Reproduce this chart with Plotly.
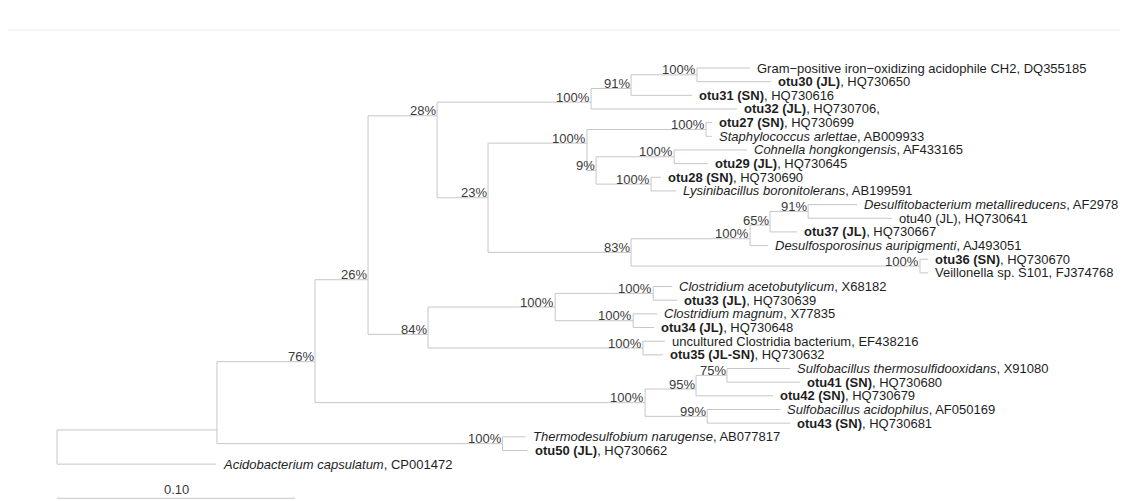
import plotly.graph_objects as go

# ---- tree data (pre-order, children listed top to bottom) ----
node_id = [
    "root", "A", "B", "C", "D", "N1", "N2", "N3", "gram", "otu30", "otu31", "otu32",
    "N4", "N5", "N6", "otu27", "staph", "N7", "N8", "cohnella", "otu29", "N9", "otu28", "lysini",
    "N10", "N11", "N12", "N13", "desulfito", "otu40", "otu37", "desulfosporo", "N14", "otu36", "veillonella",
    "E", "N15", "N16", "caceto", "otu33", "N17", "cmagnum", "otu34", "N18", "uncult", "otu35",
    "N19", "N20", "N21", "sthermo", "otu41", "otu42", "N22", "sacid", "otu43",
    "N23", "thermo", "otu50", "acido",
]
node_parent = [
    None, "root", "A", "B", "C", "D", "N1", "N2", "N3", "N3", "N2", "N1",
    "D", "N4", "N5", "N6", "N6", "N5", "N7", "N8", "N8", "N7", "N9", "N9",
    "N4", "N10", "N11", "N12", "N13", "N13", "N12", "N11", "N10", "N14", "N14",
    "C", "E", "N15", "N16", "N16", "N15", "N17", "N17", "E", "N18", "N18",
    "B", "N19", "N20", "N21", "N21", "N20", "N19", "N22", "N22",
    "A", "N23", "N23", "root",
]
branch_length = [
    0.0, 0.0672, 0.0412, 0.0223, 0.0290, 0.0647, 0.0168, 0.0277, 0.0223, 0.0311, 0.0256, 0.0613,
    0.0214, 0.0416, 0.0500, 0.0025, 0.0025, 0.0038, 0.0328, 0.0307, 0.0143, 0.0231, 0.0042, 0.0105,
    0.0601, 0.0500, 0.0084, 0.0160, 0.0206, 0.0353, 0.0113, 0.0076, 0.1214, 0.0034, 0.0034,
    0.0252, 0.0534, 0.0412, 0.0080, 0.0101, 0.0328, 0.0101, 0.0088, 0.0903, 0.0092, 0.0084,
    0.1387, 0.0214, 0.0130, 0.0265, 0.0307, 0.0324, 0.0261, 0.0307, 0.0349,
    0.1200, 0.0097, 0.0105, 0.0668,
]
bootstrap = [
    "", "", "76%", "26%", "28%", "100%", "91%", "100%", "", "", "", "",
    "23%", "100%", "100%", "", "", "9%", "100%", "", "", "100%", "", "",
    "83%", "100%", "65%", "91%", "", "", "", "", "100%", "", "",
    "84%", "100%", "100%", "", "", "100%", "", "", "100%", "", "",
    "100%", "95%", "75%", "", "", "", "99%", "", "",
    "100%", "", "", "",
]
leaf_label = {
    "gram": "Gram\u2212positive iron\u2212oxidizing acidophile CH2, DQ355185",
    "otu30": "<b>otu30 (JL)</b>, HQ730650",
    "otu31": "<b>otu31 (SN)</b>, HQ730616",
    "otu32": "<b>otu32 (JL)</b>, HQ730706,",
    "otu27": "<b>otu27 (SN)</b>, HQ730699",
    "staph": "<i>Staphylococcus arlettae</i>, AB009933",
    "cohnella": "<i>Cohnella hongkongensis</i>, AF433165",
    "otu29": "<b>otu29 (JL)</b>, HQ730645",
    "otu28": "<b>otu28 (SN)</b>, HQ730690",
    "lysini": "<i>Lysinibacillus boronitolerans</i>, AB199591",
    "desulfito": "<i>Desulfitobacterium metallireducens</i>, AF2978",
    "otu40": "otu40 (JL), HQ730641",
    "otu37": "<b>otu37 (JL)</b>, HQ730667",
    "desulfosporo": "<i>Desulfosporosinus auripigmenti</i>, AJ493051",
    "otu36": "<b>otu36 (SN)</b>, HQ730670",
    "veillonella": "Veillonella sp. S101, FJ374768",
    "caceto": "<i>Clostridium acetobutylicum</i>, X68182",
    "otu33": "<b>otu33 (JL)</b>, HQ730639",
    "cmagnum": "<i>Clostridium magnum</i>, X77835",
    "otu34": "<b>otu34 (JL)</b>, HQ730648",
    "uncult": "uncultured Clostridia bacterium, EF438216",
    "otu35": "<b>otu35 (JL-SN)</b>, HQ730632",
    "sthermo": "<i>Sulfobacillus thermosulfidooxidans</i>, X91080",
    "otu41": "<b>otu41 (SN)</b>, HQ730680",
    "otu42": "<b>otu42 (SN)</b>, HQ730679",
    "sacid": "<i>Sulfobacillus acidophilus</i>, AF050169",
    "otu43": "<b>otu43 (SN)</b>, HQ730681",
    "thermo": "<i>Thermodesulfobium narugense</i>, AB077817",
    "otu50": "<b>otu50 (JL)</b>, HQ730662",
    "acido": "<i>Acidobacterium capsulatum</i>, CP001472",
}
scale_bar_value = 0.10
scale_bar_label = "0.10"

# ---- layout of the tree ----
children = {n: [] for n in node_id}
for n, p in zip(node_id, node_parent):
    if p is not None:
        children[p].append(n)
blen = dict(zip(node_id, branch_length))
support = dict(zip(node_id, bootstrap))

X, Y = {}, {}


def place_x(n, x0):
    X[n] = x0 + blen[n]
    for c in children[n]:
        place_x(c, X[n])


place_x("root", 0.0)

leaf_order = [n for n in node_id if not children[n]]
for i, n in enumerate(leaf_order):
    Y[n] = i


def first_leaf(n):
    while children[n]:
        n = children[n][0]
    return n


def last_leaf(n):
    while children[n]:
        n = children[n][-1]
    return n


def place_y(n):
    for c in children[n]:
        place_y(c)
    if children[n]:
        ch = children[n]
        Y[n] = (Y[last_leaf(ch[0])] + Y[first_leaf(ch[-1])]) / 2.0


place_y("root")

lx, ly = [], []
for n, p in zip(node_id, node_parent):
    if p is not None:
        lx += [X[p], X[n], None]
        ly += [Y[n], Y[n], None]
    if children[n]:
        lx += [X[n], X[n], None]
        ly += [Y[children[n][0]], Y[children[n][-1]], None]

LINE = "#c6c6c6"
FONT = "Arial, Liberation Sans, sans-serif"

fig = go.Figure()
fig.add_trace(go.Scatter(x=lx, y=ly, mode="lines", line=dict(color=LINE, width=1),
                         hoverinfo="skip", showlegend=False))
# scale bar
n_leaves = len(leaf_order)
bar_y = n_leaves + 1.5
fig.add_trace(go.Scatter(x=[0, scale_bar_value], y=[bar_y, bar_y], mode="lines",
                         line=dict(color=LINE, width=1), hoverinfo="skip", showlegend=False))

ann = []
for n in leaf_order:
    ann.append(dict(x=X[n], y=Y[n], text=leaf_label[n], showarrow=False, xanchor="left",
                    yanchor="middle", xshift=5, font=dict(family=FONT, size=13, color="#1e1e1e")))
for n in node_id:
    if support[n]:
        ann.append(dict(x=X[n], y=Y[n], text=support[n], showarrow=False, xanchor="right",
                        yanchor="middle", xshift=1, yshift=5,
                        font=dict(family=FONT, size=13, color="#3a3a3a")))
ann.append(dict(x=scale_bar_value / 2, y=bar_y, text=scale_bar_label, showarrow=False,
                xanchor="center", yanchor="middle", yshift=9,
                font=dict(family=FONT, size=13, color="#3a3a3a")))

# the page adds an 8 px body margin, so figure pixels = page pixels - 8
px_per_unit = 2380.0
x0_px = 49.0
y0_px, row_px = 60.0, 13.66
W, H = 1128, 501
fig.update_layout(
    width=W, height=H, margin=dict(l=0, r=0, t=0, b=0),
    paper_bgcolor="white", plot_bgcolor="white",
    xaxis=dict(range=[-x0_px / px_per_unit, (W - x0_px) / px_per_unit], visible=False, fixedrange=True),
    yaxis=dict(range=[(H - y0_px) / row_px, -y0_px / row_px], visible=False, fixedrange=True),
    annotations=ann,
    shapes=[
        dict(type="line", xref="paper", yref="paper", x0=0, x1=1, y0=1 - 22 / H, y1=1 - 22 / H,
             line=dict(color="#ececec", width=1)),
    ],
)
fig.write_html("out.html")
